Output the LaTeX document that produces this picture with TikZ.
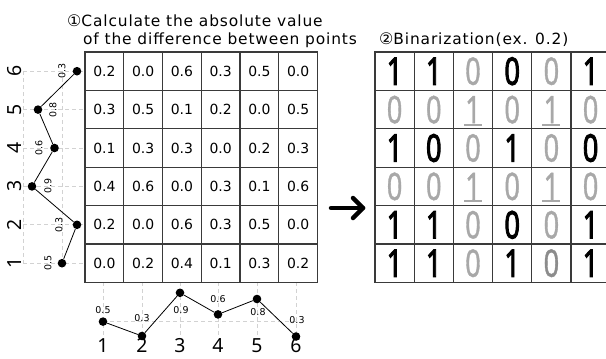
\documentclass[tikz,border=0pt]{standalone}
\usepackage{fontspec}
\setmainfont{DejaVu Sans}
\newfontfamily\headfont[LetterSpace=5.5]{DejaVu Sans}
\newfontfamily\circfont{DejaVu Sans}
\newfontfamily\bitfont[FakeBold=1.2]{Noto Sans}
\newfontfamily\bitboldfont[FakeBold=3]{Noto Sans}
\newfontfamily\axisfont{Noto Sans}
\definecolor{offgray}{HTML}{A8A8A8}
\definecolor{midgray}{HTML}{8C8C8C}
\definecolor{gridgray}{HTML}{D2D2D2}
\definecolor{rulegray}{HTML}{3A3A3A}
\newcommand\slimdigit[1]{\scalebox{0.72}[1]{#1}}
\begin{document}
\begin{tikzpicture}[x=1bp,y=-1bp,
  every node/.style={inner sep=0pt},
  tabline/.style={draw=rulegray, line width=1.1bp},
  cellnum/.style={font=\fontsize{14}{14}\selectfont},
  dot/.style={circle, fill=black, inner sep=0pt, minimum size=8.6bp},
  link/.style={line width=0.8bp},
  guide/.style={draw=gridgray, line width=0.9bp, dash pattern=on 4bp off 3bp},
  ptlabel/.style={font=\fontsize{9.5}{10}\selectfont},
  axisnum/.style={font=\axisfont\fontsize{19.5}{19.5}\selectfont, anchor=base},
  bitoff/.style={font=\bitfont\fontsize{38}{38}\selectfont, text=offgray},
  bitdim/.style={font=\bitfont\fontsize{38}{38}\selectfont, text=midgray},
  biton/.style={font=\bitboldfont\fontsize{38}{38}\selectfont, text=black},
  underbar/.style={draw=offgray, line width=2bp},
  heading/.style={font=\headfont\fontsize{15.5}{16}\selectfont, anchor=base west},
  arrowline/.style={line width=4.5bp, line cap=round, line join=round},
]
\useasboundingbox (0,0) rectangle (606,358);
\clip (0,0) rectangle (606,358);

% headings
\node[heading] (t1) at (67,26.5) {{\circfont\fontsize{16}{16}\selectfont ①}Calculate the absolute value};
\node[heading] (t2) at (83,44.5) {of the difference between points};
\node[heading] (t3) at (379,44.5) {{\circfont\fontsize{16}{16}\selectfont ②}Binarization(ex. 0.2)};

% dashed guides of the two profiles
\foreach \y in {71.2,109.6,148,186.4,224.8,263.2}
  \draw[guide] (23,\y) -- (85,\y);
\draw[guide] (23,71.2) -- (23,263.2);
\draw[guide] (62,71.2) -- (62,263.2);
\foreach \x in {103,142,180,218,257,296}
  \draw[guide] (\x,282.4) -- (\x,336);
\draw[guide] (103,321.6) -- (297,321.6);

% difference table
\draw[tabline] (85,52) rectangle (317.5,282.4);
\foreach \x in {123.75,162.5,201.25,240,278.75}
  \draw[tabline] (\x,52) -- (\x,282.4);
\foreach \y in {90.4,128.8,167.2,205.6,244}
  \draw[tabline] (85,\y) -- (317.5,\y);
\foreach \row [count=\r] in {{0.2,0.0,0.6,0.3,0.5,0.0},{0.3,0.5,0.1,0.2,0.0,0.5},{0.1,0.3,0.3,0.0,0.2,0.3},{0.4,0.6,0.0,0.3,0.1,0.6},{0.2,0.0,0.6,0.3,0.5,0.0},{0.0,0.2,0.4,0.1,0.3,0.2}}
  \foreach \v [count=\c] in \row
    \node[cellnum] (d\r\c) at ({85+38.75*(\c-0.5)},{52+38.4*(\r-0.5)}) {\v};

% binary table
\draw[tabline] (375,52) rectangle (610.2,282.4);
\foreach \x in {414.2,453.4,492.6,531.8,571}
  \draw[tabline] (\x,52) -- (\x,282.4);
\foreach \y in {90.4,128.8,167.2,205.6,244}
  \draw[tabline] (375,\y) -- (610.2,\y);
\foreach \row [count=\r] in {{1/on,1/on,0/off,0/on,0/off,1/on},{0/off,0/off,1/off,0/off,1/off,0/off},{1/on,0/on,0/off,1/on,0/off,0/on},{0/off,0/off,1/off,0/off,1/off,0/off},{1/on,1/on,0/off,0/on,0/off,1/on},{1/on,1/on,0/off,1/on,0/dim,1/on}}
  \foreach \v/\s [count=\c] in \row
    \node[bit\s] (bit\r\c) at ({375+39.2*(\c-0.5)},{52+38.4*(\r-0.5)}) {\slimdigit{\v}};
\foreach \r in {2,4}
  \foreach \c in {3,5}
    \draw[underbar] ([xshift=-9bp,yshift=-15bp]bit\r\c.center) -- ([xshift=9bp,yshift=-15bp]bit\r\c.center);

% arrow between the tables
\coordinate (arrTail) at (331,208);
\coordinate (arrHead) at (363,208);
\coordinate (arrUp) at (353,198);
\coordinate (arrDn) at (353,218);
\draw[arrowline] (arrTail) -- (arrHead);
\draw[arrowline] (arrUp) -- (arrHead) -- (arrDn);

% left profile (rotated)
\node[dot] (l1) at (62,263.2) {};
\node[dot] (l2) at (77,224.8) {};
\node[dot] (l3) at (32,186.4) {};
\node[dot] (l4) at (54.5,148) {};
\node[dot] (l5) at (38,109.6) {};
\node[dot] (l6) at (77,71.2) {};
\draw[link] (l1) -- (l2) -- (l3) -- (l4) -- (l5) -- (l6);
\node[ptlabel, rotate=90] (lv1) at (48,263.2) {0.5};
\node[ptlabel, rotate=90] (lv2) at (59,224.8) {0.3};
\node[ptlabel, rotate=90] (lv3) at (48,186.4) {0.9};
\node[ptlabel, rotate=90] (lv4) at (39,148) {0.6};
\node[ptlabel, rotate=90] (lv5) at (53,109.6) {0.8};
\node[ptlabel, rotate=90] (lv6) at (62,71.2) {0.3};
\foreach \i/\y in {1/263.2,2/224.8,3/186.4,4/148,5/109.6,6/71.2}
  \node[axisnum, rotate=90] (ly\i) at (21,\y) {\i};

% bottom profile
\node[dot] (b1) at (103,321.6) {};
\node[dot] (b2) at (142,336) {};
\node[dot] (b3) at (180,292.8) {};
\node[dot] (b4) at (218,314.4) {};
\node[dot] (b5) at (257,299) {};
\node[dot] (b6) at (296,336.5) {};
\draw[link] (b1) -- (b2) -- (b3) -- (b4) -- (b5) -- (b6);
\node[ptlabel] (bv1) at (103,310) {0.5};
\node[ptlabel] (bv2) at (142,318) {0.3};
\node[ptlabel] (bv3) at (181,310) {0.9};
\node[ptlabel] (bv4) at (218,299) {0.6};
\node[ptlabel] (bv5) at (258,312) {0.8};
\node[ptlabel] (bv6) at (297,320) {0.3};
\foreach \i/\x in {1/103,2/142,3/180,4/218,5/257,6/296}
  \node[axisnum] (bx\i) at (\x,352.5) {\i};
\end{tikzpicture}
\end{document}
